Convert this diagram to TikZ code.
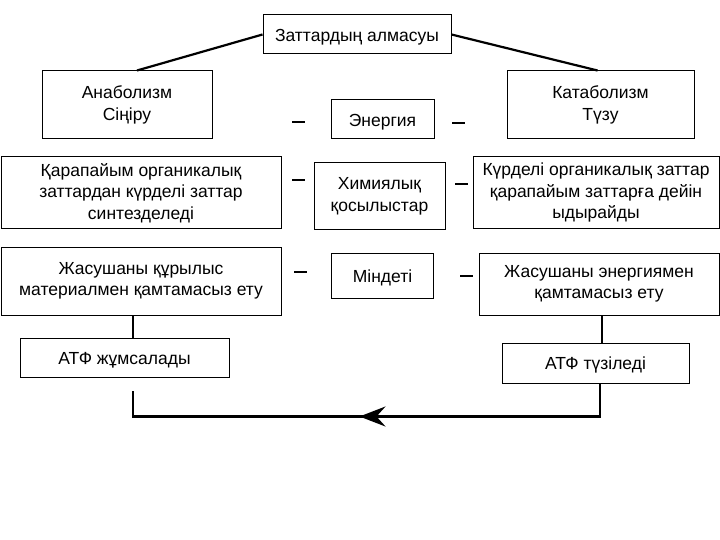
\documentclass[tikz,border=0pt]{standalone}
\usepackage{fontspec}
\setmainfont{Liberation Sans}
\usetikzlibrary{arrows.meta}
\usetikzlibrary{decorations.markings}
\tikzstyle{blk}=[draw,line width=1pt,align=center,inner sep=2pt,font=\fontsize{17.5}{21.5}\selectfont,
  execute at begin node={\rule{0pt}{0.98em}},execute at end node={\rule[-0.22em]{0pt}{0pt}}]
\tikzstyle{con}=[line width=2.2pt]
\tikzstyle{dsh}=[fill=black,inner sep=0pt,minimum width=13pt,minimum height=2.6pt]
\tikzstyle{cyc}=[line width=2.2pt,postaction={decorate},
  decoration={markings,mark=at position .52 with {\arrow{Stealth[length=26pt,width=20pt,inset=9pt]}}}]
\begin{document}
\begin{tikzpicture}[x=1pt,y=-1pt]
	\useasboundingbox (0,0) rectangle (720,540);
	\node[blk,minimum width=188pt,minimum height=39pt] (zat) at (357,34.5) {Заттардың алмасуы};
	\node[blk,minimum width=170pt,minimum height=68pt] (ana) at (127,105) {Анаболизм\\Сіңіру};
	\node[blk,minimum width=187pt,minimum height=68pt] (kat) at (600.5,105) {Катаболизм\\Түзу};
	\node[blk,minimum width=103pt,minimum height=39pt] (en) at (382.5,119.5) {Энергия};
	\node[blk,minimum width=280pt,minimum height=72pt] (qar) at (141,193) {Қарапайым органикалық\\заттардан күрделі заттар\\синтезделеді};
	\node[blk,minimum width=131pt,minimum height=67pt] (xim) at (379.5,196.5) {Химиялық\\қосылыстар};
	\node[blk,minimum width=246pt,minimum height=72pt] (kur) at (596,193) {Күрделі органикалық заттар\\қарапайым заттарға дейін\\ыдырайды};
	\node[blk,minimum width=280pt,minimum height=68pt] (jas1) at (141,281) {Жасушаны құрылыс\\материалмен қамтамасыз ету};
	\node[blk,minimum width=102pt,minimum height=45pt] (min) at (382.5,275.5) {Міндеті};
	\node[blk,minimum width=240pt,minimum height=62pt] (jas2) at (599,284) {Жасушаны энергиямен\\қамтамасыз ету};
	\node[blk,minimum width=209pt,minimum height=39pt] (atp1) at (124.5,357.5) {АТФ жұмсалады};
	\node[blk,minimum width=187pt,minimum height=40pt] (atp2) at (595.5,363) {АТФ түзіледі};
	\foreach \i/\p in {1/{298,122},2/{458,123},3/{298,180},4/{461,184},5/{300,272},6/{466,276}}
	  \node[dsh] (d\i) at (\p) {};
	\draw[con] (zat.west) -- ([xshift=10pt]ana.north);
	\draw[con] (zat.east) -- ([xshift=-3pt]kat.north);
	\draw[con] ([xshift=-8pt]jas1.south) -- ([xshift=-8pt]jas1.south |- atp1.north);
	\draw[con] ([xshift=3pt]jas2.south) -- ([xshift=3pt]jas2.south |- atp2.north);
	\draw[cyc] ([xshift=4.5pt]atp2.south) -- ++(0,33) -| ([xshift=8.5pt,yshift=-13pt]atp1.south);
\end{tikzpicture}
\end{document}
